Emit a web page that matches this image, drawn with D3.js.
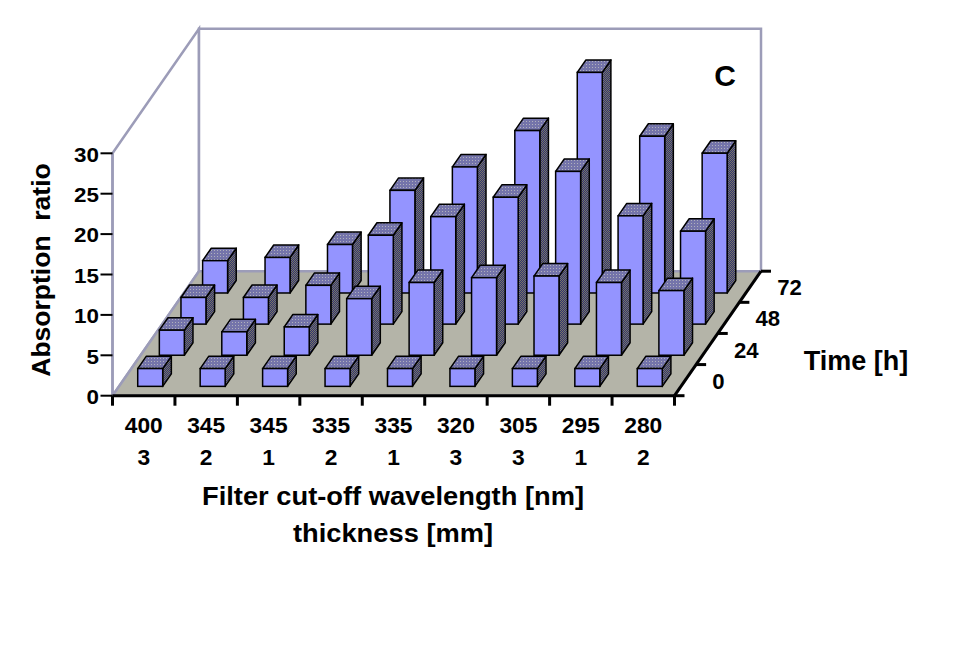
<!DOCTYPE html>
<html>
<head>
<meta charset="utf-8">
<script src="https://cdn.jsdelivr.net/npm/d3@7"></script>
<style>
  html, body { margin: 0; padding: 0; background: #fff; }
  svg text { font-family: "Liberation Sans", Arial, sans-serif; font-weight: bold; fill: #000; }
</style>
</head>
<body>
<svg id="chart" width="975" height="650"></svg>
<script>
// ---- data ----
const wavelengths = ["400", "345", "345", "335", "335", "320", "305", "295", "280"];
const thicknesses = ["3", "2", "1", "2", "1", "3", "3", "1", "2"];
const times = ["0", "24", "48", "72"];
const values0  = [2.2, 2.2, 2.2, 2.2, 2.2, 2.2, 2.2, 2.2, 2.2];
const values24 = [3.1, 2.9, 3.5, 7.0, 9.0, 9.6, 9.8, 9.0, 8.0];
const values48 = [3.3, 3.3, 4.8, 11.0, 13.3, 15.7, 18.9, 13.4, 11.5];
const values72 = [4.0, 4.4, 6.0, 12.7, 15.6, 20.1, 27.3, 19.4, 17.3];
const yTicks = [0, 5, 10, 15, 20, 25, 30];
const panelLabel = "C";

const series = [values0, values24, values48, values72];
const catIdx = d3.range(wavelengths.length);

// ---- layout ----
const svg = d3.select("#chart");
const X0 = 112.5, X1 = 674.5;
const DX = 86.5, DY = -124.5;           // full depth vector
const wallCol = "#9c9cb8";

const x = d3.scaleBand().domain(catIdx).range([X0, X1]).paddingInner(0.6).paddingOuter(0.3);
const z = d3.scaleBand().domain(times).range([0, 1]).paddingInner(0.6).paddingOuter(0.3);
const zRow = d3.scaleBand().domain(times).range([0, 1]);
const y = d3.scaleLinear().domain([0, 30]).range([395.7, 153.3]);

const P = (px, v, d) => [px + d * DX, y(v) + d * DY];
const pts = arr => arr.map(p => p.join(",")).join(" ");

function label(tx, ty, str, size, anchor, sx) {
  return svg.append("text")
    .attr("transform", `translate(${tx},${ty}) scale(${sx || 1},1)`)
    .attr("text-anchor", anchor || "middle")
    .attr("font-size", size)
    .style("white-space", "pre")
    .text(str);
}

// patterns (dither look)
const defs = svg.append("defs");
const topPat = defs.append("pattern").attr("id", "topPat").attr("patternUnits", "userSpaceOnUse")
  .attr("width", 3).attr("height", 3);
topPat.append("rect").attr("width", 3).attr("height", 3).attr("fill", "#7474aa");
topPat.append("rect").attr("x", 1).attr("y", 1).attr("width", 1).attr("height", 1).attr("fill", "#b0b0bc");
const sidePat = defs.append("pattern").attr("id", "sidePat").attr("patternUnits", "userSpaceOnUse")
  .attr("width", 2).attr("height", 2);
sidePat.append("rect").attr("width", 2).attr("height", 2).attr("fill", "#30307a");
sidePat.append("rect").attr("x", 0).attr("y", 0).attr("width", 1).attr("height", 1).attr("fill", "#7a7a5e");
sidePat.append("rect").attr("x", 1).attr("y", 1).attr("width", 1).attr("height", 1).attr("fill", "#7a7a5e");

// ---- walls ----
const yTop = d3.max(yTicks);
svg.append("polygon").attr("points", pts([P(X0, yTop, 0), P(X0, yTop, 1), P(X0, 0, 1), P(X0, 0, 0)]))
  .attr("fill", "#fff").attr("stroke", wallCol).attr("stroke-width", 2.5);
svg.append("polygon").attr("points", pts([P(X0, yTop, 1), P(X1, yTop, 1), P(X1, 0, 1), P(X0, 0, 1)]))
  .attr("fill", "#fff").attr("stroke", wallCol).attr("stroke-width", 2.5);

// floor
svg.append("polygon").attr("points", pts([P(X0, 0, 0), P(X1, 0, 0), P(X1, 0, 1), P(X0, 0, 1)]))
  .attr("fill", "#b4b4a8").attr("stroke", wallCol).attr("stroke-width", 2.5);

// ---- bars ----
const bw = x.bandwidth(), zb = z.bandwidth();
const barsG = svg.append("g");
for (let s = times.length - 1; s >= 0; s--) {
  const z0 = z(times[s]), z1 = z0 + zb;
  catIdx.forEach(i => {
    const v = series[s][i];
    const x0 = x(i), x1 = x0 + bw;
    const g = barsG.append("g");
    g.append("polygon").attr("points", pts([P(x1, 0, z0), P(x1, v, z0), P(x1, v, z1), P(x1, 0, z1)]))
      .attr("fill", "url(#sidePat)").attr("stroke", "#000").attr("stroke-width", 1.5).attr("stroke-linejoin", "round");
    g.append("polygon").attr("points", pts([P(x0, v, z0), P(x1, v, z0), P(x1, v, z1), P(x0, v, z1)]))
      .attr("fill", "url(#topPat)").attr("stroke", "#000").attr("stroke-width", 1.5).attr("stroke-linejoin", "round");
    const a = P(x0, v, z0), b = P(x1, 0, z0);
    g.append("rect").attr("x", a[0]).attr("y", a[1]).attr("width", b[0] - a[0]).attr("height", b[1] - a[1])
      .attr("fill", "#9494ff").attr("stroke", "#000").attr("stroke-width", 1.5);
  });
}

// ---- axes ----
svg.append("line").attr("x1", X0).attr("x2", X0).attr("y1", y(yTop)).attr("y2", y(0))
  .attr("stroke", wallCol).attr("stroke-width", 2.5);
yTicks.forEach(t => {
  svg.append("line").attr("x1", X0 - 12).attr("x2", X0).attr("y1", y(t)).attr("y2", y(t))
    .attr("stroke", "#000").attr("stroke-width", 2);
  label(99, y(t) + 8.2, String(t), 20, "end", 1.12);
});

// category axis
svg.append("line").attr("x1", X0).attr("x2", X1).attr("y1", y(0)).attr("y2", y(0))
  .attr("stroke", "#000").attr("stroke-width", 3);
const step = x.step();
d3.range(wavelengths.length + 1).forEach(k => {
  const tx = X0 + k * step;
  svg.append("line").attr("x1", tx).attr("x2", tx).attr("y1", y(0)).attr("y2", y(0) + 10)
    .attr("stroke", "#000").attr("stroke-width", 3);
});
catIdx.forEach(i => {
  const cx = x(i) + bw / 2;
  label(cx, 433, wavelengths[i], 21.5, "middle", 1.06);
  label(cx, 465, thicknesses[i], 21.5, "middle", 1.06);
});

// depth axis
svg.append("line").attr("x1", P(X1, 0, 0)[0]).attr("y1", P(X1, 0, 0)[1])
  .attr("x2", P(X1, 0, 1)[0]).attr("y2", P(X1, 0, 1)[1]).attr("stroke", "#000").attr("stroke-width", 3);
d3.range(times.length + 1).forEach(k => {
  const p = P(X1, 0, k / times.length);
  svg.append("line").attr("x1", p[0]).attr("x2", p[0] + 10).attr("y1", p[1]).attr("y2", p[1])
    .attr("stroke", "#000").attr("stroke-width", 3);
});
times.forEach(t => {
  const p = P(X1, 0, zRow(t) + zRow.bandwidth() / 2);
  label(p[0] + 27, p[1] + 8.5, t, 21.5, "start", 1.03);
});

// ---- titles ----
svg.append("text").attr("transform", "translate(50,270) rotate(-90)").attr("text-anchor", "middle")
  .attr("font-size", 26.5).style("white-space", "pre").text("Absorption  ratio");
label(393, 505, "Filter cut-off wavelength [nm]", 26, "middle", 1.05);
label(393, 542, "thickness [mm]", 26, "middle", 1.05);
label(856, 370, "Time [h]", 27, "middle", 1);
label(725, 86, panelLabel, 30, "middle", 1);
</script>
</body>
</html>
